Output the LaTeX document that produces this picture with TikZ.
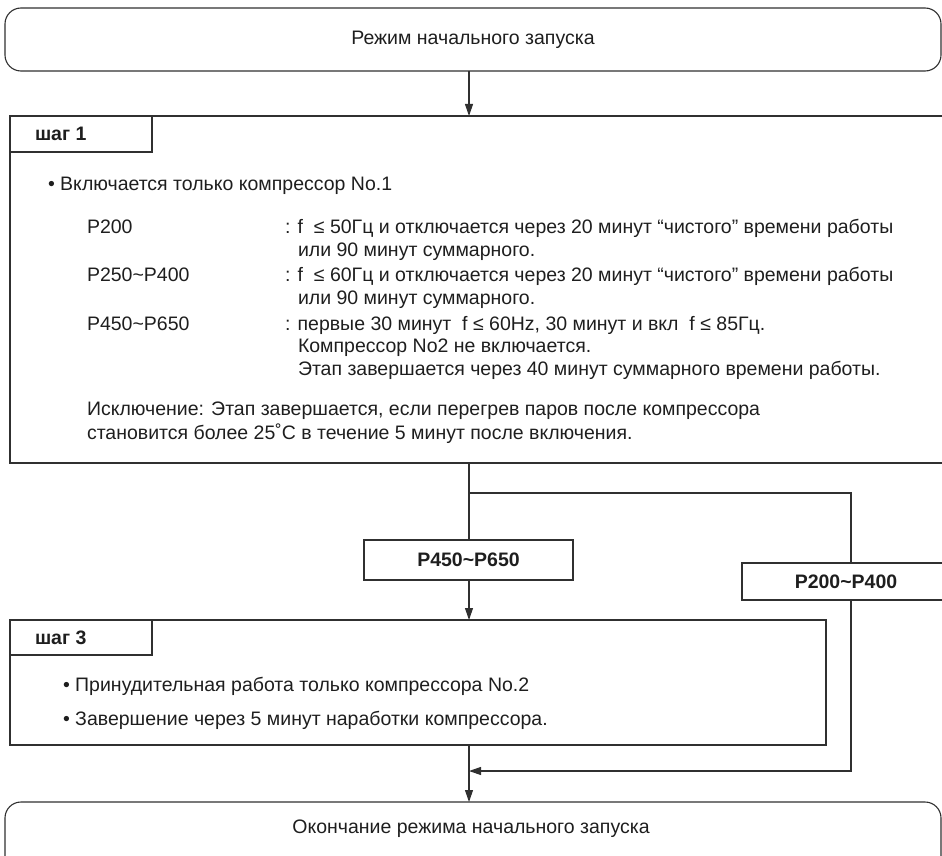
\documentclass[tikz,border=0pt]{standalone}
\usepackage{fontspec}
\setmainfont{Liberation Sans}
\usetikzlibrary{arrows.meta}
\definecolor{ink}{HTML}{1E1E1E}
\definecolor{edge}{HTML}{303030}
\begin{document}
\begin{tikzpicture}[x=1pt,y=-1pt,
  line width=1.1pt, draw=edge,
  every node/.style={inner sep=0pt, outer sep=0pt, text=ink, font=\fontsize{19.5}{23}\selectfont},
  box/.style={draw=edge, line width=1.1pt, rectangle, anchor=north west},
  rbox/.style={box, rounded corners=16pt},
  txt/.style={anchor=base west},
  bold/.style={font=\fontsize{19.5}{23}\selectfont\bfseries},
  arr/.style={draw=edge, line width=1.1pt, -{Triangle[length=12pt,width=8pt]}},
  conn/.style={draw=edge, line width=1.1pt}]
\useasboundingbox (0,0) rectangle (942,856);
\begin{scope}
\clip (0,0) rectangle (942,856);
% boxes
\node[rbox, minimum width=936pt, minimum height=63pt] (start) at (5,8) {};
\node at (start.center) {Режим начального запуска};
\node[box, minimum width=945pt, minimum height=347pt] (s1) at (10,116) {};
\node[box, minimum width=142pt, minimum height=36pt] (t1) at (10,116) {};
\node[txt, bold] (t1l) at (35,141) {шаг 1};
\node[txt] (l1) at (48,190) {• Включается только компрессор No.1};
\node[txt] (l2a) at (87,233) {P200};
\node[txt] (l2b) at (285,233) {: f \ ≤ 50Гц и отключается через 20 минут “чистого” времени работы};
\node[txt] (l2c) at (298,256) {или 90 минут суммарного.};
\node[txt] (l3a) at (87,281) {P250\char"007E P400};
\node[txt] (l3b) at (285,281) {: f \ ≤ 60Гц и отключается через 20 минут “чистого” времени работы};
\node[txt] (l3c) at (298,304) {или 90 минут суммарного.};
\node[txt] (l4a) at (87,330) {P450\char"007E P650};
\node[txt] (l4b) at (285,330) {: первые 30 минут \ f ≤ 60Hz, 30 минут и вкл \ f ≤ 85Гц.};
\node[txt] (l4c) at (298,352) {Компрессор No2 не включается.};
\node[txt] (l4d) at (298,375) {Этап завершается через 40 минут суммарного времени работы.};
\node[txt] (l5a) at (87,415) {Исключение: Этап завершается, если перегрев паров после компрессора};
\node[txt] (l5b) at (87,439) {становится более 25˚C в течение 5 минут после включения.};
% branch boxes
\node[box, minimum width=209pt, minimum height=40pt] (b450) at (364,540) {};
\node[bold] at (b450.center) {P450\char"007E P650};
\node[box, minimum width=215pt, minimum height=37pt] (b200) at (742,563) {};
\node[bold] at (846,581.5) {P200\char"007E P400};
% step 3
\node[box, minimum width=816pt, minimum height=125pt] (s3) at (10,620) {};
\node[box, minimum width=142pt, minimum height=35pt] (t3) at (10,620) {};
\node[txt, bold] (t3l) at (35,644) {шаг 3};
\node[txt] (m1) at (63,691) {• Принудительная работа только компрессора No.2};
\node[txt] (m2) at (63,725) {• Завершение через 5 минут наработки компрессора.};
% end box
\node[rbox, minimum width=936pt, minimum height=70pt] (end) at (5,802) {};
\node at (471,829) {Окончание режима начального запуска};
% connectors
\coordinate (cx) at (469,0);
\coordinate (rx) at (851,0);
\coordinate (br) at (469,493);
\coordinate (jn) at (469,771);
\draw[arr] (start.south -| cx) -- (s1.north -| cx);
\draw[conn] (s1.south -| cx) -- (b450.north -| cx);
\draw[arr] (b450.south -| cx) -- (s3.north -| cx);
\draw[conn] (br) -| (b200.north -| rx);
\draw[arr] (b200.south -| rx) |- (jn);
\draw[arr] (s3.south -| cx) -- (end.north -| cx);
\end{scope}
\end{tikzpicture}
\end{document}
